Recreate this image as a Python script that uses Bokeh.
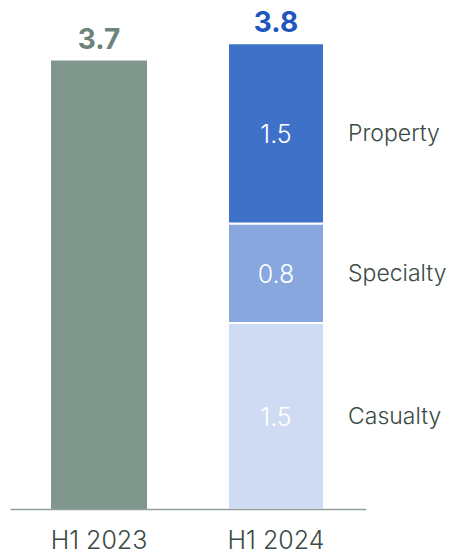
from bokeh.plotting import figure
from bokeh.models import Range1d, ColumnDataSource
from bokeh.core.properties import value
from bokeh.embed import file_html
from bokeh.resources import INLINE

# ---- data ----
periods = ["H1 2023", "H1 2024"]
total_2023 = 3.66
total_labels = ["3.7", "3.8"]
segments = ["Casualty", "Specialty", "Property"]
segment_values = [1.52, 0.81, 1.47]
segment_labels = ["1.5", "0.8", "1.5"]

# ---- styles ----
C_2023 = "#80978e"
SEG_COLORS = ["#cfdbf2", "#87a7de", "#3f71c9"]
TXT = "#3b4a44"
LIGHT = "Inter Light"
BOLD = "Inter"

W, H = 451, 553
px_per_x = 177.0
px_per_y = 122.7
base_px = 509.0
x0_px = 98.5

p = figure(width=W, height=H, output_backend="svg", toolbar_location=None,
           x_range=Range1d(-x0_px / px_per_x, (W - x0_px) / px_per_x),
           y_range=Range1d(-(H - base_px) / px_per_y, base_px / px_per_y),
           min_border=0, outline_line_color=None)
p.axis.visible = False
p.grid.visible = False
p.background_fill_color = "white"
p.border_fill_color = "white"

bw = 96 / px_per_x
xs = list(range(len(periods)))

# H1 2023 single bar
p.vbar(x=[xs[0]], bottom=[0], top=[total_2023], width=bw,
       fill_color=C_2023, line_color=None)

# H1 2024 stacked
bottoms = []
b = 0.0
for v in segment_values:
    bottoms.append(b)
    b += v
tops = [bb + v for bb, v in zip(bottoms, segment_values)]
total_2024 = tops[-1]
seg_src = ColumnDataSource(dict(
    x=[xs[1]] * len(segments), bottom=bottoms, top=tops, color=SEG_COLORS,
    mid=[(bb + t) / 2 for bb, t in zip(bottoms, tops)],
    lab=segment_labels, name=segments))
p.vbar(x="x", bottom="bottom", top="top", width=bw, fill_color="color",
       line_color="white", line_width=2, source=seg_src)

# axis line
p.segment(x0=[xs[0] - 0.5], x1=[xs[1] + 0.51], y0=[0], y1=[0],
          line_color="#8fa39b", line_width=1.6)

# segment values inside bar
p.text(x="x", y="mid", text="lab", source=seg_src, text_align="center",
       text_baseline="middle", text_color="white", text_font=value(LIGHT),
       text_font_size="25px")
# segment names
p.text(x="x", y="mid", text="name", source=seg_src, x_offset=72,
       text_align="left", text_baseline="middle", text_color=TXT,
       text_font=value(LIGHT), text_font_size="23px")

# totals
p.text(x=xs, y=[total_2023, total_2024], text=total_labels, y_offset=-22,
       text_align="center", text_baseline="middle",
       text_color=["#6d837b", "#1f55be"], text_font=value(BOLD),
       text_font_style="bold", text_font_size="28px")

# category labels
p.text(x=xs, y=[0, 0], text=periods, y_offset=30, text_align="center",
       text_baseline="middle", text_color=TXT, text_font=value(LIGHT),
       text_font_size="25px")

open("out.html", "w").write(file_html(p, INLINE))
